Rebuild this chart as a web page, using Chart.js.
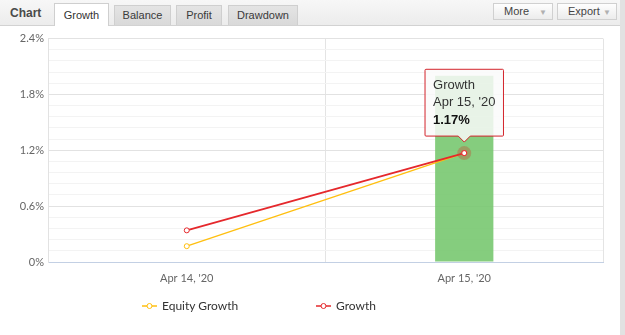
<!DOCTYPE html>
<html>
<head>
<meta charset="utf-8">
<script src="https://cdn.jsdelivr.net/npm/chart.js@4.4.1/dist/chart.umd.min.js"></script>
<style>
  html, body { margin: 0; padding: 0; background: #fff; }
  body { width: 625px; height: 335px; position: relative; overflow: hidden; font-family: "Liberation Sans", Arial, sans-serif; }
  #header { position: absolute; left: 0; top: 0; width: 620px; height: 25px; background: linear-gradient(#f7f7f7, #ececec); border-bottom: 1px solid #d2d2d2; }
  #title { position: absolute; left: 10px; top: 6px; font-weight: bold; font-size: 12px; color: #4a4a4a; }
  .tab { position: absolute; top: 5px; height: 20px; box-sizing: border-box; border: 1px solid #cfcfcf; border-bottom: none; background: linear-gradient(#e4e4e4, #d9d9d9); font-size: 11px; color: #3a3a3a; text-align: center; line-height: 19px; }
  .tab.active { top: 3px; height: 23px; background: #fff; color: #333; line-height: 23px; }
  .btn { position: absolute; top: 3px; height: 17px; box-sizing: border-box; border: 1px solid #d0d0d0; background: linear-gradient(#fefefe, #ececec); font-size: 11px; color: #444; line-height: 15px; padding-left: 10px; }
  .btn span { color: #b0b0b0; font-size: 8px; position: absolute; right: 5px; top: 1px; }
  #strip { position: absolute; left: 620px; top: 0; width: 5px; height: 335px; background: #e2e2e2; }
  #wrap { position: absolute; left: 0; top: 28px; width: 620px; height: 307px; }
  #legend { position: absolute; top: 298px; left: 0; width: 620px; height: 16px; font-family: "Lato", sans-serif; font-size: 12px; color: #333; }
  .li { position: absolute; top: 0; height: 16px; line-height: 16px; white-space: nowrap; }
  .li canvas { position: absolute; left: 0; top: 4px; }
  .li b { font-weight: normal; position: absolute; left: 20px; top: 0; }
</style>
</head>
<body>
<div id="header">
  <div id="title">Chart</div>
  <div class="tab active" style="left:54px;width:55px;">Growth</div>
  <div class="tab" style="left:114px;width:57px;">Balance</div>
  <div class="tab" style="left:176px;width:46px;">Profit</div>
  <div class="tab" style="left:228px;width:70px;">Drawdown</div>
  <div class="btn" style="left:493px;width:60px;">More<span>&#9660;</span></div>
  <div class="btn" style="left:557px;width:60px;">Export<span>&#9660;</span></div>
</div>
<div id="strip"></div>
<div id="wrap"><canvas id="c" width="620" height="307"></canvas></div>
<div id="legend"></div>
<script>
const categories = ["Apr 14, '20", "Apr 15, '20"];
const equityGrowth = [0.17, 1.17];
const growth = [0.34, 1.17];
const columnValues = [null, 2.0];
const yTickLabels = ['0%', '0.6%', '1.2%', '1.8%', '2.4%'];
const seriesNames = ['Equity Growth', 'Growth'];

const RED = '#e5282c';
const YELLOW = '#ffbf0f';
const TICK_FONT = { family: 'Lato, sans-serif', size: 11 };

const haloPlugin = {
  id: 'halo',
  afterDatasetsDraw(chart) {
    const meta = chart.getDatasetMeta(2);
    const el = meta.data[1];
    if (!el) return;
    const ctx = chart.ctx;
    ctx.save();
    ctx.beginPath();
    ctx.arc(el.x, el.y, 7, 0, Math.PI * 2);
    ctx.fillStyle = 'rgba(200,70,50,0.35)';
    ctx.fill();
    ctx.beginPath();
    ctx.arc(el.x, el.y, 2.5, 0, Math.PI * 2);
    ctx.fillStyle = '#fff';
    ctx.fill();
    ctx.lineWidth = 1;
    ctx.strokeStyle = RED;
    ctx.stroke();
    ctx.restore();
  }
};

const chart = new Chart(document.getElementById('c'), {
  data: {
    labels: categories,
    datasets: [
      {
        type: 'bar', label: 'Column', data: columnValues,
        backgroundColor: 'rgba(120,200,112,0.9)', borderWidth: 0,
        barPercentage: 0.21, categoryPercentage: 1, order: 3
      },
      {
        type: 'line', label: seriesNames[0], data: equityGrowth,
        borderColor: YELLOW, borderWidth: 1.3, pointRadius: 2.5, pointHoverRadius: 2.5,
        pointBackgroundColor: '#fff', pointBorderColor: YELLOW, pointBorderWidth: 1,
        pointHoverBackgroundColor: '#fff', pointHoverBorderColor: YELLOW, pointHoverBorderWidth: 1,
        order: 2
      },
      {
        type: 'line', label: seriesNames[1], data: growth,
        borderColor: RED, borderWidth: 1.8, pointRadius: 2.5, pointHoverRadius: 2.5,
        pointBackgroundColor: '#fff', pointBorderColor: RED, pointBorderWidth: 1,
        pointHoverBackgroundColor: '#fff', pointHoverBorderColor: RED, pointHoverBorderWidth: 1,
        order: 1
      }
    ]
  },
  options: {
    responsive: false,
    animation: false,
    events: [],
    layout: { padding: { left: 0, right: 17, top: 9, bottom: 0 } },
    scales: {
      x: {
        type: 'category', offset: true,
        grid: { offset: true, color: '#e4e4e4', drawTicks: false },
        border: { color: '#c3d0e4', width: 1 },
        ticks: { color: '#666', font: TICK_FONT, padding: 10, maxRotation: 0 },
        afterFit(axis) { axis.height = 73; }
      },
      y: {
        min: 0, max: 2.4,
        grid: {
          drawTicks: false,
          color(ctx) { return ctx.index % 5 === 0 ? '#e2e2e2' : '#f3f3f3'; }
        },
        border: { color: '#e2e2e2' },
        ticks: {
          stepSize: 0.12, autoSkip: false, color: '#666', font: TICK_FONT, padding: 4,
          callback(value, index) { return index % 5 === 0 ? yTickLabels[index / 5] : ''; }
        },
        afterFit(axis) { axis.width = 48; }
      }
    },
    plugins: {
      legend: { display: false },
      tooltip: {
        enabled: true,
        yAlign: 'bottom', xAlign: 'center',
        backgroundColor: 'rgba(250,250,250,0.85)',
        borderColor: '#d3232b', borderWidth: 1, cornerRadius: 1,
        caretSize: 6, caretPadding: 11,
        padding: { top: 8, bottom: 8, left: 8, right: 8 },
        displayColors: false,
        titleColor: '#333', bodyColor: '#111',
        titleFont: { family: 'Liberation Sans, sans-serif', size: 13, weight: 'normal' },
        bodyFont: { family: 'Liberation Sans, sans-serif', size: 13, weight: 'bold' },
        titleSpacing: 2, titleMarginBottom: 2,
        callbacks: {
          title(items) { const it = items[0]; return [it.dataset.label, categories[it.dataIndex]]; },
          label(it) { return it.parsed.y.toFixed(2) + '%'; }
        }
      }
    }
  },
  plugins: [haloPlugin]
});

const active = [{ datasetIndex: 2, index: 1 }];
const el = chart.getDatasetMeta(2).data[1];
chart.setActiveElements(active);
chart.tooltip.setActiveElements(active, { x: el.x, y: el.y });
chart.update('none');

// legend (HTML), from dataset names and colours
const legendPos = [142, 316];
const legend = document.getElementById('legend');
[1, 2].forEach((di, i) => {
  const ds = chart.data.datasets[di];
  const item = document.createElement('div');
  item.className = 'li';
  item.style.left = legendPos[i] + 'px';
  const cv = document.createElement('canvas');
  cv.width = 15; cv.height = 8;
  const c = cv.getContext('2d');
  c.strokeStyle = ds.borderColor; c.lineWidth = 1.5;
  c.beginPath(); c.moveTo(0, 4); c.lineTo(15, 4); c.stroke();
  c.beginPath(); c.arc(7.5, 4, 2.5, 0, Math.PI * 2); c.fillStyle = '#fff'; c.fill();
  c.lineWidth = 1; c.stroke();
  item.appendChild(cv);
  const t = document.createElement('b');
  t.textContent = ds.label;
  item.appendChild(t);
  legend.appendChild(item);
});
</script>
</body>
</html>
